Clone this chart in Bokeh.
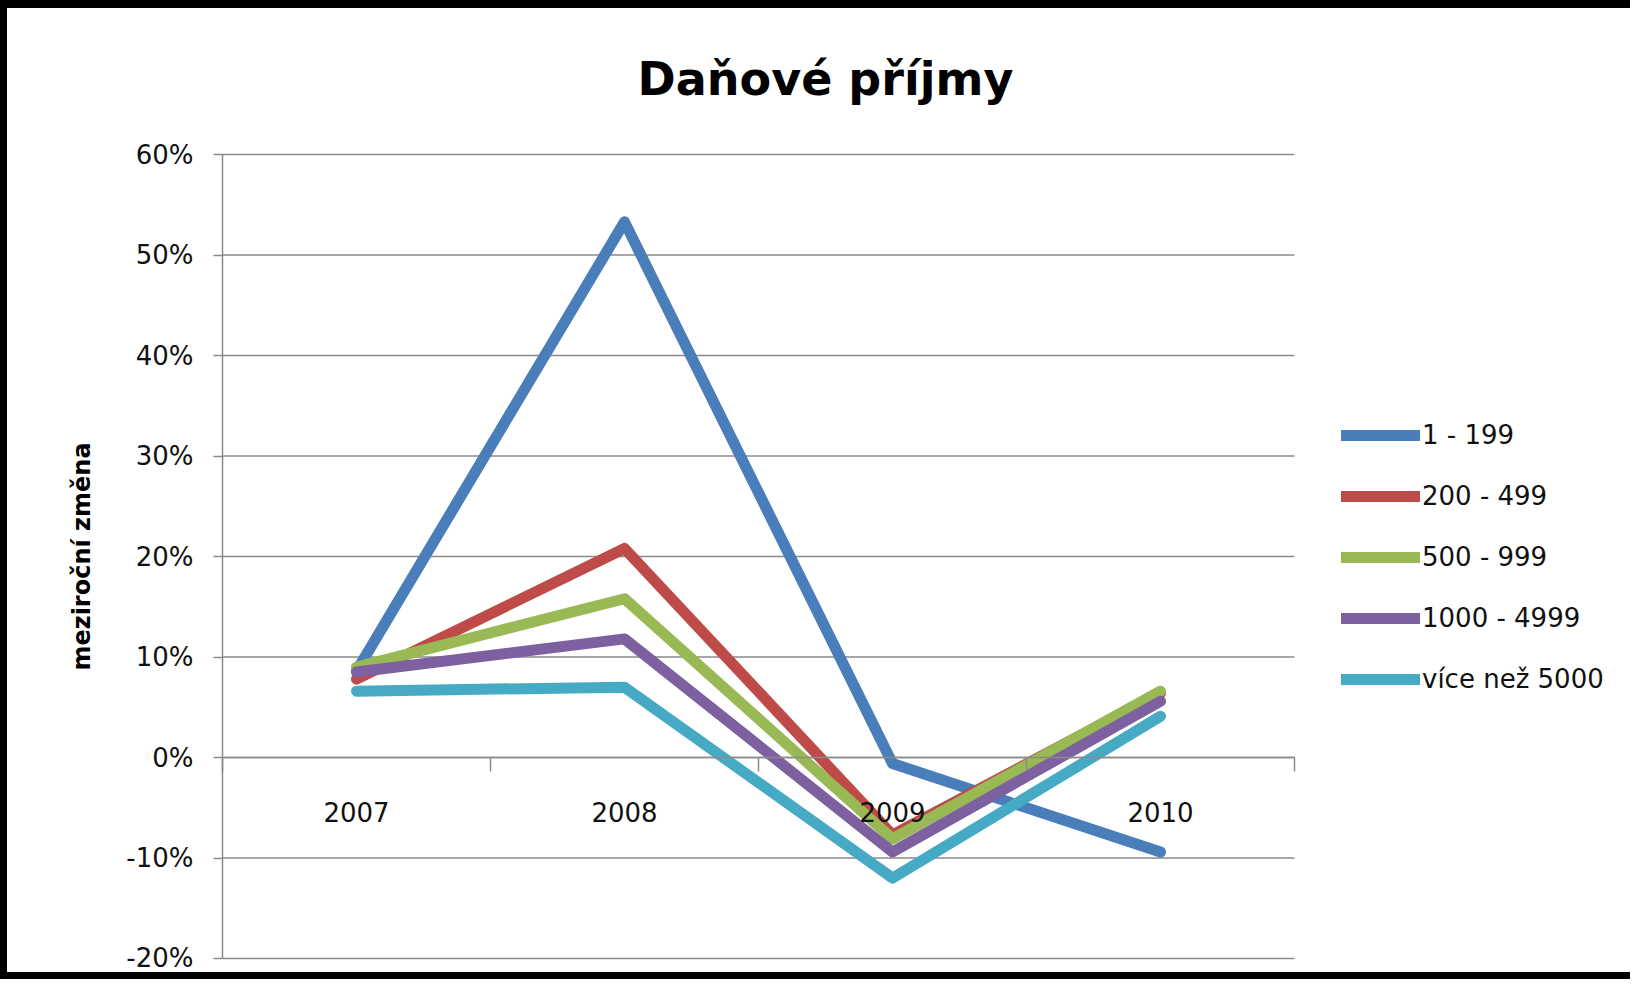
import math
from bokeh.plotting import figure
from bokeh.models import (Range1d, LinearAxis, FixedTicker, NumeralTickFormatter,
                          Legend, LegendItem, Label)
from bokeh.embed import file_html
from bokeh.resources import INLINE

# ---- data ----
years = ["2007", "2008", "2009", "2010"]
series_names = ["1 - 199", "200 - 499", "500 - 999", "1000 - 4999", "více než 5000"]
s_1_199 = [0.086, 0.533, -0.006, -0.094]
s_200_499 = [0.078, 0.208, -0.077, 0.064]
s_500_999 = [0.090, 0.158, -0.081, 0.066]
s_1000_4999 = [0.085, 0.118, -0.094, 0.056]
s_5000 = [0.066, 0.070, -0.120, 0.041]
series_colors = ["#4A7EBB", "#BE4B48", "#98B954", "#7D60A0", "#46AAC5"]
y_ticks = [-0.2, -0.1, 0.0, 0.1, 0.2, 0.3, 0.4, 0.5, 0.6]
title_text = "Daňové příjmy"
y_label_text = "meziroční změna"

series_values = [s_1_199, s_200_499, s_500_999, s_1000_4999, s_5000]
xs = list(range(1, len(years) + 1))
boundaries = [i + 0.5 for i in range(0, len(years) + 1)]

# ---- layout (pixels on the canvas) ----
W, H = 1630, 979
AREA_L = 215           # left edge of category area
CAT_W = 268            # px per category
TOP_GAP = 146          # px from canvas top to the top gridline
PLOT_H = 804           # px between bottom and top gridline
y_lo, y_hi = y_ticks[0], y_ticks[-1]
x_lo = boundaries[0]
y_per_px = (y_hi - y_lo) / PLOT_H


def x_px(px):
    return x_lo + (px - AREA_L) / CAT_W


def y_px(py):
    return y_hi - (py - TOP_GAP) * y_per_px


GRAY = "#8a8a8a"

p = figure(width=W, height=H, output_backend="svg", toolbar_location=None,
           x_range=Range1d(x_px(0), x_px(W)), y_range=Range1d(y_px(H), y_px(0)),
           x_axis_location=None, y_axis_location=None,
           min_border=0, min_border_left=0, min_border_right=0, min_border_top=0,
           min_border_bottom=0)
p.styles = {"border-left": "7px solid black", "border-top": "8px solid black",
            "border-bottom": "7px solid black"}
p.outline_line_color = None
p.background_fill_color = "white"
p.border_fill_color = "white"
p.xgrid.visible = False
p.ygrid.visible = False

# gridlines across the category area
p.segment(x0=boundaries[0], x1=boundaries[-1], y0=y_ticks, y1=y_ticks,
          line_color=GRAY, line_width=1.5)

# title
p.add_layout(Label(x=x_px(818), y=y_px(70), text=title_text,
                   text_align="center", text_baseline="alphabetic",
                   text_font="DejaVu Sans", text_font_style="bold", text_font_size="46px",
                   text_color="black"))

# y axis title
p.add_layout(Label(x=x_px(74), y=y_px(548), text=y_label_text, angle=math.pi / 2,
                   text_align="center", text_baseline="middle",
                   text_font="DejaVu Sans", text_font_style="bold", text_font_size="24px",
                   text_color="black"))

# y axis
yax = LinearAxis(ticker=FixedTicker(ticks=y_ticks), formatter=NumeralTickFormatter(format="0%"),
                 fixed_location=x_lo, bounds=(y_lo, y_hi),
                 major_tick_out=9, major_tick_in=0, minor_tick_out=0, minor_tick_in=0,
                 axis_line_color=GRAY, axis_line_width=1.5,
                 major_tick_line_color=GRAY, major_tick_line_width=1.5,
                 major_label_standoff=20, major_label_text_font="DejaVu Sans",
                 major_label_text_font_size="26px", major_label_text_color="#111111")
p.add_layout(yax, "left")

# x axis: tick marks at category boundaries
x_ticks_axis = LinearAxis(ticker=FixedTicker(ticks=boundaries), fixed_location=0,
                          bounds=(boundaries[0], boundaries[-1]),
                          major_tick_out=14, major_tick_in=0, minor_tick_out=0, minor_tick_in=0,
                          axis_line_color=GRAY, axis_line_width=1.5,
                          major_tick_line_color=GRAY, major_tick_line_width=1.5,
                          major_label_text_font_size="0px", major_label_text_alpha=0)
p.add_layout(x_ticks_axis, "below")

# x axis: category labels
x_labels_axis = LinearAxis(ticker=FixedTicker(ticks=xs), fixed_location=0,
                           bounds=(boundaries[0], boundaries[-1]),
                           major_label_overrides={float(x): y for x, y in zip(xs, years)},
                           major_tick_out=0, major_tick_in=0, minor_tick_out=0, minor_tick_in=0,
                           axis_line_alpha=0, major_tick_line_alpha=0,
                           major_label_standoff=44,
                           major_label_text_font="DejaVu Sans", major_label_text_font_size="26px",
                           major_label_text_color="#111111")
p.add_layout(x_labels_axis, "below")

# lines
items = []
for name, vals, col in zip(series_names, series_values, series_colors):
    r = p.line(xs, vals, line_color=col, line_width=11, line_join="round", line_cap="round")
    items.append(LegendItem(label=name, renderers=[r]))

legend = Legend(items=items, location=(1334, H - 686), orientation="vertical",
                border_line_color=None, background_fill_alpha=0,
                glyph_width=79, glyph_height=30, label_height=30, spacing=31,
                padding=0, margin=0, label_standoff=2,
                label_text_font="DejaVu Sans", label_text_font_size="26px",
                label_text_color="#111111")
p.add_layout(legend, "center")

open("out.html", "w").write(file_html(p, INLINE))
